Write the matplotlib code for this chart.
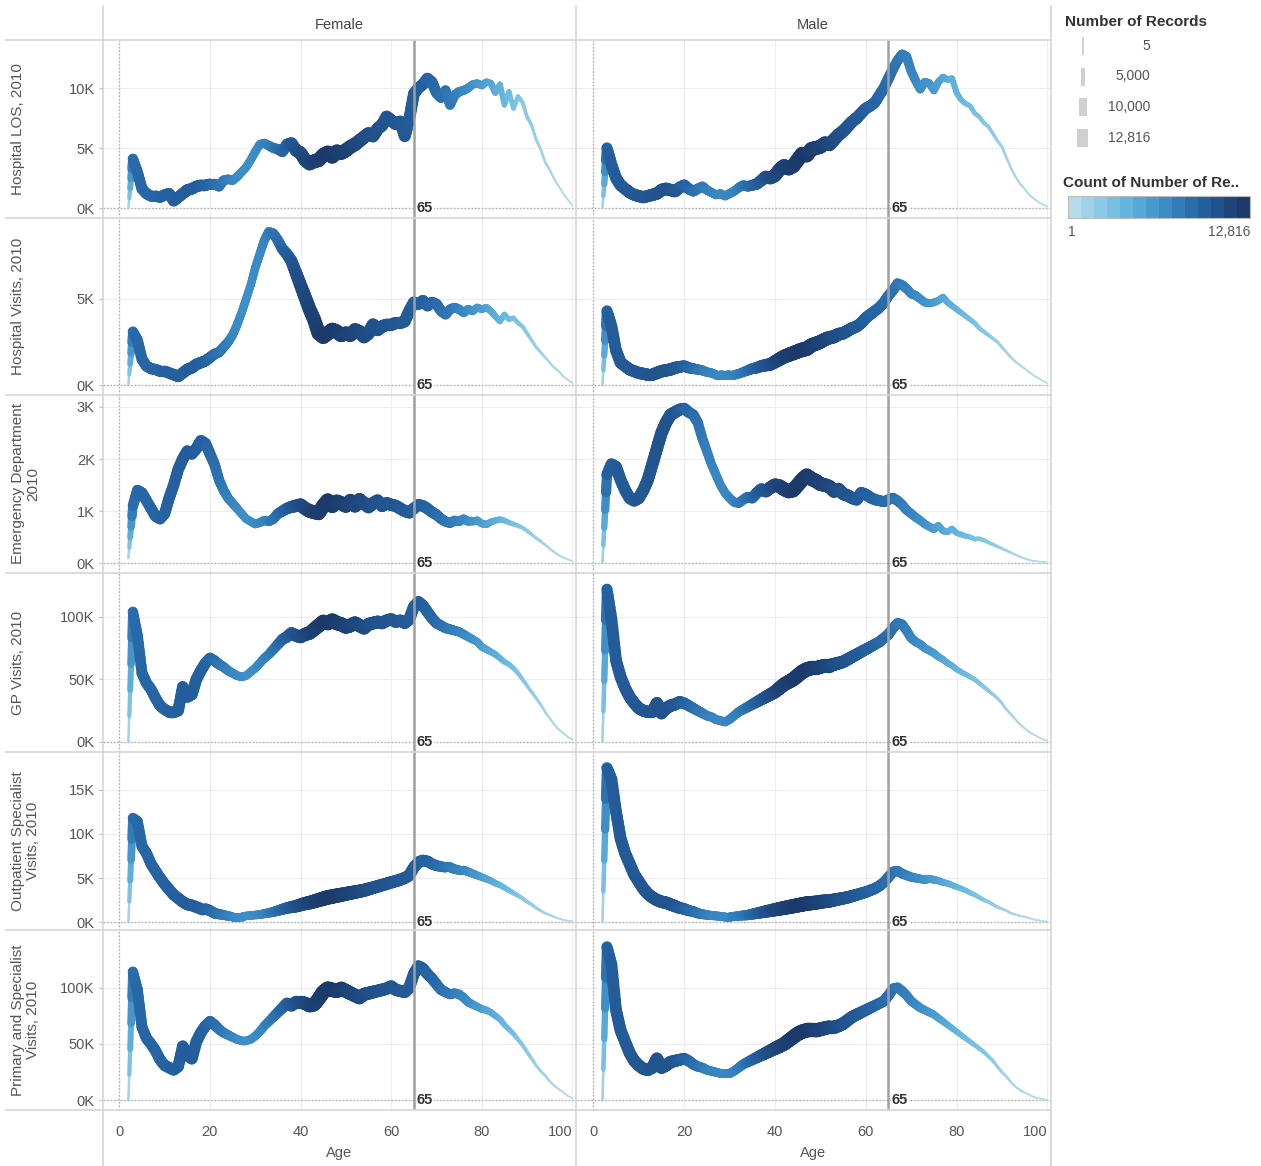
import numpy as np
import matplotlib.pyplot as plt
from matplotlib.collections import LineCollection
from matplotlib.colors import LinearSegmentedColormap
from matplotlib.lines import Line2D
from matplotlib.patches import Rectangle

plt.rcParams['font.family'] = ['Liberation Sans', 'DejaVu Sans']

# ---- data (values in thousands, ages 2..100) ----
ages = list(range(2, 101))

female_count = [
    150, 8800, 9200, 9300, 9400, 9400, 9500, 9500, 9600, 9700,
    9700, 9800, 9900, 10000, 10000, 9900, 9800, 9600, 9300, 9000,
    8600, 8200, 7800, 7400, 7100, 6900, 6800, 6800, 6900, 7100,
    7400, 7800, 8300, 8800, 9300, 9800, 10300, 10800, 11200, 11600,
    11900, 12200, 12400, 12600, 12816, 12700, 12600, 12400, 12200, 12000,
    11800, 11600, 11400, 11200, 11000, 10900, 10800, 10700, 10600, 10500,
    10400, 10300, 10200, 10000, 9900, 9800, 9600, 9400, 9100, 8800,
    8500, 8200, 7900, 7600, 7300, 7000, 6600, 6200, 5900, 5500,
    5100, 4700, 4300, 3900, 3500, 3100, 2700, 2300, 2000, 1700,
    1400, 1150, 900, 700, 520, 370, 250, 150, 80]
male_count = [
    150, 9600, 10000, 10100, 10200, 10200, 10300, 10300, 10400, 10500,
    10500, 10600, 10700, 10800, 10800, 10700, 10500, 10200, 9800, 9400,
    9000, 8600, 8200, 7800, 7500, 7300, 7200, 7200, 7300, 7500,
    7800, 8200, 8700, 9200, 9700, 10200, 10700, 11100, 11500, 11900,
    12200, 12400, 12600, 12700, 12816, 12750, 12600, 12400, 12200, 12000,
    11700, 11400, 11100, 10900, 10700, 10500, 10300, 10100, 9900, 9700,
    9500, 9300, 9100, 8900, 8700, 8400, 8100, 7800, 7500, 7200,
    6900, 6600, 6300, 6000, 5600, 5200, 4800, 4500, 4200, 3900,
    3600, 3300, 3000, 2700, 2400, 2100, 1800, 1500, 1250, 1000,
    800, 620, 470, 350, 250, 170, 110, 70, 40]

female_los = [
    0.0, 4.1, 3.0, 1.6, 1.2, 1.0, 1.0, 0.9, 1.1, 1.2,
    0.6, 0.9, 1.2, 1.5, 1.6, 1.8, 1.9, 1.9, 2.0, 2.0,
    1.8, 2.3, 2.4, 2.3, 2.6, 3.0, 3.4, 4.0, 4.7, 5.3,
    5.4, 5.2, 5.0, 4.9, 4.7, 5.3, 5.4, 4.8, 4.6, 4.0,
    3.7, 3.9, 4.0, 4.4, 4.6, 4.3, 4.7, 4.6, 4.8, 5.1,
    5.3, 5.6, 5.9, 6.2, 6.0, 6.6, 6.9, 7.6, 7.3, 7.0,
    7.2, 6.0, 7.4, 9.5, 10.0, 10.3, 10.8, 10.5, 9.6, 9.2,
    9.8, 8.6, 9.4, 9.7, 9.8, 10.0, 10.3, 10.4, 10.2, 10.5,
    10.4, 9.6, 10.3, 8.6, 9.7, 8.3, 9.3, 8.8, 7.6, 6.9,
    5.7, 4.9, 3.8, 3.2, 2.4, 1.8, 1.2, 0.7, 0.2]
male_los = [
    0.0, 5.0, 3.6, 2.5, 1.9, 1.6, 1.3, 1.1, 1.0, 0.9,
    1.0, 1.1, 1.2, 1.5, 1.6, 1.5, 1.4, 1.7, 1.9, 1.6,
    1.4, 1.6, 1.8, 1.5, 1.3, 1.1, 1.2, 1.0, 1.2, 1.4,
    1.7, 1.9, 1.8, 1.9, 2.0, 2.3, 2.6, 2.5, 2.7, 3.2,
    3.5, 3.3, 3.5, 4.0, 4.5, 4.4, 4.9, 5.0, 5.1, 5.4,
    5.3, 5.7, 6.1, 6.4, 6.8, 7.2, 7.5, 7.9, 8.3, 8.5,
    8.8, 9.4, 10.0, 10.8, 11.6, 12.3, 12.8, 12.6, 11.4, 10.6,
    9.9, 10.5, 10.4, 9.8, 10.5, 10.9, 10.7, 10.8, 9.6, 9.0,
    8.7, 8.5, 7.9, 7.6, 7.1, 6.8, 6.2, 5.6, 5.1, 4.2,
    3.3, 2.6, 2.0, 1.6, 1.1, 0.8, 0.5, 0.3, 0.1]

female_visits = [
    0.0, 3.1, 2.6, 1.5, 1.1, 0.95, 0.9, 0.8, 0.8, 0.7,
    0.6, 0.5, 0.7, 0.9, 1.0, 1.2, 1.3, 1.4, 1.6, 1.8,
    1.9, 2.2, 2.5, 2.9, 3.5, 4.2, 5.0, 5.8, 6.8, 7.6,
    8.4, 8.9, 8.8, 8.4, 7.9, 7.6, 7.2, 6.5, 5.8, 5.1,
    4.4, 3.8, 3.0, 2.8, 3.0, 3.2, 3.1, 2.9, 3.0, 2.9,
    3.2, 3.1, 2.8, 3.0, 3.5, 3.2, 3.4, 3.5, 3.5, 3.6,
    3.6, 3.7, 4.3, 4.8, 4.7, 4.9, 4.6, 4.8, 4.7, 4.3,
    4.1, 4.4, 4.5, 4.4, 4.2, 4.4, 4.3, 4.5, 4.4, 4.5,
    4.3, 4.0, 3.7, 4.1, 3.8, 3.9, 3.6, 3.4, 3.0, 2.6,
    2.2, 1.9, 1.6, 1.3, 1.0, 0.8, 0.5, 0.3, 0.1]
male_visits = [
    0.0, 4.3, 3.4, 2.0, 1.3, 1.1, 0.9, 0.8, 0.7, 0.65,
    0.6, 0.6, 0.7, 0.8, 0.85, 0.9, 1.0, 1.05, 1.1, 1.0,
    0.95, 0.9, 0.85, 0.75, 0.7, 0.6, 0.6, 0.55, 0.6, 0.6,
    0.65, 0.75, 0.85, 0.95, 1.0, 1.1, 1.15, 1.2, 1.35, 1.5,
    1.65, 1.75, 1.85, 1.95, 2.05, 2.1, 2.3, 2.4, 2.5, 2.65,
    2.75, 2.8, 2.95, 3.0, 3.15, 3.3, 3.4, 3.6, 3.9, 4.1,
    4.3, 4.5, 4.8, 5.2, 5.5, 5.9, 5.8, 5.6, 5.3, 5.2,
    5.0, 4.8, 4.75, 4.8, 4.9, 5.1, 4.8, 4.6, 4.4, 4.2,
    4.0, 3.8, 3.6, 3.3, 3.1, 2.9, 2.7, 2.5, 2.2, 1.9,
    1.6, 1.35, 1.15, 0.95, 0.75, 0.55, 0.4, 0.25, 0.1]

female_ed = [
    0.1, 1.1, 1.4, 1.35, 1.2, 1.05, 0.9, 0.85, 0.95, 1.25,
    1.5, 1.8, 2.0, 2.15, 2.1, 2.2, 2.35, 2.3, 2.1, 1.9,
    1.6, 1.4, 1.25, 1.15, 1.05, 0.95, 0.85, 0.8, 0.75, 0.78,
    0.82, 0.8, 0.85, 0.95, 1.0, 1.05, 1.08, 1.1, 1.12, 1.05,
    1.0, 0.98, 0.96, 1.1, 1.2, 1.1, 1.18, 1.15, 1.1, 1.2,
    1.1, 1.22, 1.15, 1.08, 1.15, 1.2, 1.1, 1.15, 1.12, 1.1,
    1.05, 1.0, 0.97, 1.05, 1.12, 1.1, 1.05, 0.98, 0.93, 0.85,
    0.8, 0.77, 0.82, 0.8, 0.85, 0.8, 0.8, 0.82, 0.76, 0.74,
    0.79, 0.82, 0.84, 0.82, 0.78, 0.75, 0.72, 0.68, 0.62, 0.55,
    0.48, 0.42, 0.35, 0.28, 0.21, 0.15, 0.11, 0.07, 0.04]
male_ed = [
    0.0, 1.7, 1.9, 1.85, 1.6, 1.4, 1.25, 1.2, 1.25, 1.4,
    1.6, 1.9, 2.2, 2.5, 2.7, 2.85, 2.9, 2.95, 2.97, 2.9,
    2.85, 2.7, 2.4, 2.15, 1.9, 1.7, 1.5, 1.35, 1.25, 1.17,
    1.15, 1.22, 1.27, 1.25, 1.35, 1.42, 1.38, 1.45, 1.5, 1.48,
    1.42, 1.38, 1.4, 1.5, 1.6, 1.68, 1.62, 1.58, 1.52, 1.5,
    1.47, 1.38, 1.42, 1.33, 1.3, 1.25, 1.22, 1.35, 1.32, 1.26,
    1.22, 1.2, 1.18, 1.22, 1.25, 1.2, 1.12, 1.02, 0.95, 0.88,
    0.82, 0.75, 0.7, 0.65, 0.72, 0.62, 0.6, 0.66, 0.58, 0.55,
    0.52, 0.5, 0.46, 0.47, 0.44, 0.4, 0.36, 0.32, 0.28, 0.24,
    0.2, 0.16, 0.12, 0.09, 0.06, 0.04, 0.03, 0.02, 0.01]

female_gp = [
    0, 104, 85, 55, 47, 42, 35, 29, 26, 24,
    24, 25, 44, 36, 38, 50, 57, 63, 67, 65,
    62, 60, 57, 55, 53, 52, 53, 56, 59, 63,
    67, 70, 74, 78, 82, 84, 87, 85, 84, 86,
    87, 90, 93, 96, 95, 97, 95, 94, 92, 93,
    95, 93, 91, 94, 95, 96, 95, 97, 98, 96,
    97, 95, 98, 108, 112, 109, 104, 99, 95, 93,
    91, 90, 89, 88, 86, 84, 82, 80, 76, 74,
    72, 70, 67, 64, 62, 59, 55, 50, 45, 40,
    35, 30, 24, 19, 14, 10, 7, 4, 2]
male_gp = [
    0, 122, 98, 65, 52, 43, 36, 31, 27, 25,
    24, 24, 31, 23, 27, 29, 30, 32, 31, 29,
    27, 25, 23, 21, 20, 18, 17, 16, 18, 21,
    24, 26, 28, 30, 32, 34, 36, 38, 40, 43,
    46, 48, 50, 53, 56, 58, 59, 59, 60, 61,
    61, 62, 63, 64, 66, 68, 70, 72, 74, 76,
    78, 80, 83, 86, 91, 95, 94, 89, 83, 80,
    78, 75, 73, 71, 68, 66, 63, 61, 58, 56,
    54, 52, 50, 47, 44, 41, 38, 35, 31, 26,
    22, 18, 14, 11, 8, 6, 4, 2, 1]

female_os = [
    0, 11.8, 11.4, 8.6, 7.8, 6.6, 5.8, 5.0, 4.3, 3.7,
    3.1, 2.7, 2.3, 2.0, 1.9, 1.7, 1.5, 1.5, 1.3, 1.0,
    0.9, 0.8, 0.7, 0.6, 0.6, 0.6, 0.7, 0.75, 0.8, 0.85,
    0.95, 1.05, 1.15, 1.3, 1.45, 1.6, 1.7, 1.8, 1.95, 2.1,
    2.2, 2.35, 2.5, 2.65, 2.8, 2.9, 3.0, 3.1, 3.2, 3.3,
    3.4, 3.5, 3.6, 3.75, 3.9, 4.05, 4.2, 4.35, 4.5, 4.65,
    4.8, 5.0, 5.3, 6.2, 6.8, 7.0, 6.9, 6.6, 6.4, 6.3,
    6.2, 6.2, 6.0, 5.9, 5.9, 5.7, 5.5, 5.3, 5.1, 4.9,
    4.7, 4.4, 4.2, 3.9, 3.6, 3.3, 3.0, 2.7, 2.3, 2.0,
    1.6, 1.3, 1.0, 0.8, 0.6, 0.4, 0.25, 0.15, 0.1]
male_os = [
    0, 17.5, 16.2, 12.5, 9.5, 7.8, 6.6, 5.4, 4.6, 3.8,
    3.2, 2.8, 2.5, 2.3, 2.2, 2.0, 1.8, 1.6, 1.5, 1.3,
    1.2, 1.0, 0.9, 0.8, 0.75, 0.7, 0.65, 0.6, 0.6, 0.65,
    0.7, 0.75, 0.8, 0.9, 1.0, 1.1, 1.2, 1.3, 1.4, 1.5,
    1.6, 1.7, 1.8, 1.9, 2.0, 2.1, 2.15, 2.2, 2.3, 2.35,
    2.4, 2.5, 2.6, 2.7, 2.8, 2.95, 3.1, 3.25, 3.4, 3.6,
    3.8, 4.1, 4.5, 5.1, 5.7, 5.8, 5.5, 5.3, 5.1, 5.0,
    4.9, 4.8, 4.9, 4.8, 4.7, 4.5, 4.4, 4.2, 4.0, 3.8,
    3.6, 3.3, 3.1, 2.8, 2.5, 2.3, 2.0, 1.7, 1.5, 1.3,
    1.0, 0.85, 0.7, 0.6, 0.45, 0.3, 0.2, 0.12, 0.05]

female_ps = [
    0, 114, 98, 65, 55, 50, 44, 36, 31, 29,
    27, 30, 48, 40, 37, 52, 60, 66, 70, 67,
    63, 60, 58, 56, 54, 53, 53, 54, 57, 61,
    66, 70, 74, 78, 82, 86, 84, 87, 87, 86,
    84, 85, 90, 96, 99, 98, 97, 99, 97, 95,
    93, 91, 94, 95, 96, 97, 98, 99, 101, 98,
    97, 96, 100, 112, 119, 117, 112, 108, 103, 98,
    96, 94, 95, 94, 91, 87, 85, 83, 81, 80,
    78, 75, 72, 67, 63, 59, 54, 49, 43, 37,
    31, 26, 22, 17, 13, 10, 7, 4, 2]
male_ps = [
    0, 136, 120, 80, 62, 52, 42, 35, 31, 28,
    27, 29, 37, 29, 31, 34, 35, 36, 37, 35,
    32, 30, 29, 27, 26, 25, 24, 24, 24, 26,
    29, 32, 34, 36, 38, 40, 42, 44, 46, 48,
    50, 53, 56, 59, 61, 62, 62, 62, 63, 64,
    65, 65, 66, 68, 71, 74, 76, 78, 80, 82,
    84, 86, 88, 93, 99, 100, 97, 93, 88, 85,
    82, 80, 78, 76, 73, 70, 67, 64, 61, 58,
    55, 52, 49, 46, 43, 39, 35, 30, 25, 21,
    16, 12, 9, 7, 5, 3, 2, 1, 0.5]

measures = ['Hospital LOS, 2010', 'Hospital Visits, 2010',
            'Emergency Department\n2010', 'GP Visits, 2010',
            'Outpatient Specialist\nVisits, 2010',
            'Primary and Specialist\nVisits, 2010']
female = [female_los, female_visits, female_ed, female_gp, female_os, female_ps]
male = [male_los, male_visits, male_ed, male_gp, male_os, male_ps]
yticks = [[0, 5, 10], [0, 5], [0, 1, 2, 3], [0, 50, 100], [0, 5, 10, 15], [0, 50, 100]]
size_legend = [5, 5000, 10000, 12816]
max_count = 12816

# ---- layout (pixels) ----
W, H = 1261, 1166
fig = plt.figure(figsize=(W / 100, H / 100), dpi=100)


def rect(x0, y0, x1, y1):
    return [x0 / W, 1 - y1 / H, (x1 - x0) / W, (y1 - y0) / H]


def ftext(x, y, s, **kw):
    fig.text(x / W, 1 - y / H, s, **kw)


def fline(xs, ys, **kw):
    fig.add_artist(Line2D([x / W for x in xs], [1 - y / H for y in ys], **kw))


cmap = LinearSegmentedColormap.from_list(
    'tab_blue', [(0, '#b5dbec'), (0.3, '#66b8df'), (0.55, '#3a8ac5'),
                 (0.75, '#2562a2'), (1, '#1b3a6a')])


def trend(ax, x, y, cnt, steps=5):
    # width and colour both follow the record count, blended along each segment
    x, y, c = (np.asarray(v, float) for v in (x, y, cnt))
    t = np.linspace(0, 1, steps + 1)
    segs, cc = [], []
    for i in range(len(x) - 1):
        xs = x[i] + (x[i + 1] - x[i]) * t
        ys = y[i] + (y[i + 1] - y[i]) * t
        cs = c[i] + (c[i + 1] - c[i]) * t
        for j in range(steps):
            segs.append([(xs[j], ys[j]), (xs[j + 1], ys[j + 1])])
            cc.append((cs[j] + cs[j + 1]) / 2)
    cc = np.array(cc) / max_count
    lc = LineCollection(segs, colors=cmap(cc), linewidths=(1.5 + 13 * cc) * 0.72,
                        capstyle='round', joinstyle='round', zorder=2)
    ax.add_collection(lc)


col_x = [(103, 576), (577, 1051)]
row_y = [(40, 218), (218, 395), (395, 573), (573, 752), (752, 930), (930, 1110)]
ylims = [(-0.83, 14.0), (-0.58, 9.7), (-0.19, 3.23), (-8, 135), (-0.9, 19.3), (-8.5, 151)]
grey = '#555555'

for r in range(6):
    for col, (vals, cnt) in enumerate([(female, female_count), (male, male_count)]):
        x0, x1 = col_x[col]
        y0, y1 = row_y[r]
        ax = fig.add_axes(rect(x0, y0, x1, y1))
        ax.set_xlim(-3.6, 100.8)
        ax.set_ylim(*ylims[r])
        for s in ax.spines.values():
            s.set_visible(False)
        ax.set_xticks([0, 20, 40, 60, 80, 100])
        ax.set_yticks(yticks[r])
        ax.grid(True, color='#ededed', lw=0.8)
        ax.set_axisbelow(True)
        ax.axvline(0, color='#aaaaaa', lw=1, ls=(0, (1, 1.5)), zorder=1)
        ax.axhline(0, color='#aaaaaa', lw=1, ls=(0, (1, 1.5)), zorder=1)
        trend(ax, ages, vals[r], cnt)
        ax.axvline(65, color='#a0a0a0', lw=1.8, zorder=3)
        ax.text(65.7, 0, '65', fontsize=10.5, fontweight='bold', color='#333333',
                ha='left', va='center', zorder=4,
                bbox=dict(facecolor='white', edgecolor='none', pad=0.5))
        ax.tick_params(axis='x', length=0, labelbottom=(r == 5), labelsize=10.5,
                       labelcolor=grey, pad=11)
        if r == 5:
            ax.get_xticklabels()[-1].set_horizontalalignment('right')
        if col == 0:
            ax.set_yticklabels([f'{v}K' for v in yticks[r]])
            ax.tick_params(axis='y', length=3, color='#bbbbbb', labelsize=10.5,
                           labelcolor=grey, pad=3)
        else:
            ax.tick_params(axis='y', length=0, labelleft=False)

# ---- frame / headers ----
sep = '#d6d6d6'
for y in [40, 218, 395, 573, 752, 930, 1110]:
    fline([6, 1051], [y, y], color=sep, lw=1.2)
for x in [103, 576, 1051]:
    fline([x, x], [6, 1166], color=sep, lw=1.2)

ftext(339, 25, 'Female', ha='center', va='center', fontsize=10.5, color='#444444')
ftext(813, 25, 'Male', ha='center', va='center', fontsize=10.5, color='#444444')
ftext(339, 1153, 'Age', ha='center', va='center', fontsize=10.5, color=grey)
ftext(813, 1153, 'Age', ha='center', va='center', fontsize=10.5, color=grey)

for r, name in enumerate(measures):
    yc = sum(row_y[r]) / 2
    ftext(11, yc, name, rotation=90, ha='left', va='center', multialignment='center',
          fontsize=11, color=grey, linespacing=1.1)

# ---- legends ----
lg = fig.add_axes(rect(1055, 0, 1261, 250))
lg.set_xlim(1055, 1261)
lg.set_ylim(250, 0)
lg.axis('off')
lg.text(1065, 22, 'Number of Records', fontsize=11, fontweight='bold',
        color='#333333', va='center')
for i, v in enumerate(size_legend):
    yc = 46 + i * 30.5
    w = 1 + 10 * v / max_count
    lg.add_patch(Rectangle((1083 - w / 2, yc - 9), w, 18, color='#d0d0d0', lw=0))
    lg.text(1150, yc, f'{v:,}', ha='right', va='center', fontsize=10, color=grey)

lg.text(1063, 183, 'Count of Number of Re..', fontsize=11, fontweight='bold',
        color='#333333', va='center')
steps = np.linspace(0, 1, 14).reshape(1, -1)
lg.imshow(steps, cmap=cmap, aspect='auto', extent=(1068, 1250, 218, 196),
          interpolation='nearest')
lg.add_patch(Rectangle((1068, 196), 182, 22, fill=False, edgecolor='#bbbbbb', lw=0.8))
lg.text(1072, 232, '1', ha='center', va='center', fontsize=10, color=grey)
lg.text(1250, 232, f'{max_count:,}', ha='right', va='center', fontsize=10, color=grey)

fig.savefig('out.png', dpi=100)
